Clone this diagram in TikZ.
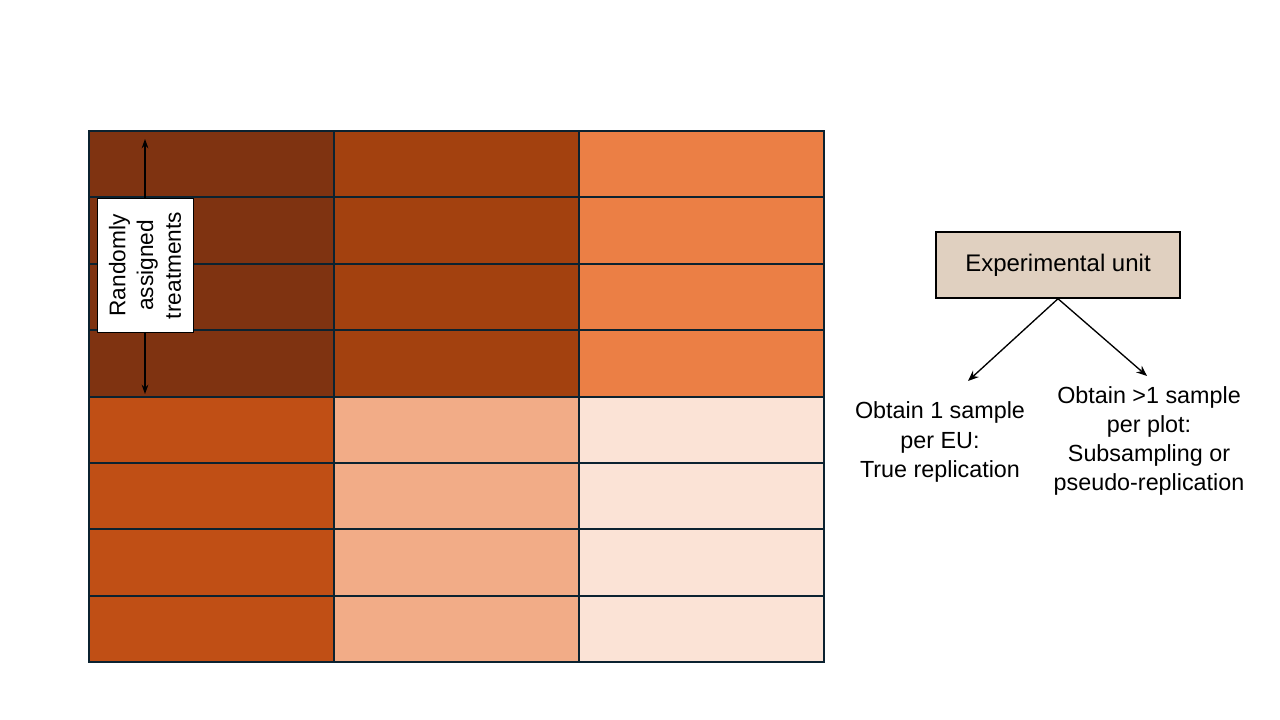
\documentclass[tikz,border=0pt]{standalone}
\usepackage{fontspec}
\setmainfont{Liberation Sans}
\usepackage{tikz}
\usetikzlibrary{arrows.meta}

\definecolor{plotdarkest}{HTML}{7F3311}
\definecolor{plotdark}{HTML}{A3410F}
\definecolor{plotmid}{HTML}{EB7F45}
\definecolor{plotrust}{HTML}{C04F15}
\definecolor{plotlight}{HTML}{F2AC87}
\definecolor{plotpale}{HTML}{FBE3D6}
\definecolor{gridnavy}{HTML}{0B2230}
\definecolor{eutan}{HTML}{E0D0C0}

\begin{document}
\begin{tikzpicture}[x=0.75pt, y=-0.75pt, line width=1.5pt,
    gridline/.style={draw=gridnavy, line width=1.5pt},
    treatbox/.style={draw=black, line width=0.75pt, fill=white, align=center, inner sep=0pt,
        minimum width=101pt, minimum height=72pt, font=\fontsize{17}{20.8}\selectfont},
    eubox/.style={draw=black, line width=1.1pt, fill=eutan, inner sep=0pt,
        minimum width=183pt, minimum height=49.5pt, font=\fontsize{18}{21.5}\selectfont},
    sampletext/.style={align=center, inner sep=0pt, font=\fontsize{17.5}{21.9}\selectfont},
    samplearrow/.style={-{Stealth[length=8pt, width=6.5pt]}, line width=1pt}]
    \useasboundingbox (0,0) rectangle (1280,720);

    % plots
    \fill[plotdarkest] (89,131) rectangle (334,397);
    \fill[plotdark] (334,131) rectangle (579,397);
    \fill[plotmid] (579,131) rectangle (824,397);
    \fill[plotrust] (89,397) rectangle (334,662);
    \fill[plotlight] (334,397) rectangle (579,662);
    \fill[plotpale] (579,397) rectangle (824,662);

    \foreach \r in {1,...,7}
        \draw[gridline] (89,{131+66.375*\r}) -- (824,{131+66.375*\r});
    \draw[gridline] (334,131) -- (334,662);
    \draw[gridline] (579,131) -- (579,662);
    \draw[gridline, line width=2pt] (89,131) rectangle (824,662);

    % treatments
    \coordinate (randtop) at (145,139);
    \coordinate (randbot) at (145,394);
    \draw[{Stealth[length=7pt, width=5pt]}-{Stealth[length=7pt, width=5pt]}, line width=1pt] (randtop) -- (randbot);
    \node[treatbox, rotate=90] (rand) at (145,265.5) {Randomly\\assigned\\treatments};

    % experimental unit
    \node[eubox] (eu) at (1058,265) {\raisebox{-1.5pt}{Experimental unit}};
    \node[sampletext] (one) at (940,442) {Obtain 1 sample\\per EU:\\True replication};
    \node[sampletext] (many) at (1149,441) {Obtain >1 sample\\per plot:\\Subsampling or\\pseudo-replication};
    \coordinate (onetip) at (968,381);
    \coordinate (manytip) at (1147,376);
    \draw[samplearrow] (eu.south) -- (onetip);
    \draw[samplearrow] (eu.south) -- (manytip);
\end{tikzpicture}
\end{document}
